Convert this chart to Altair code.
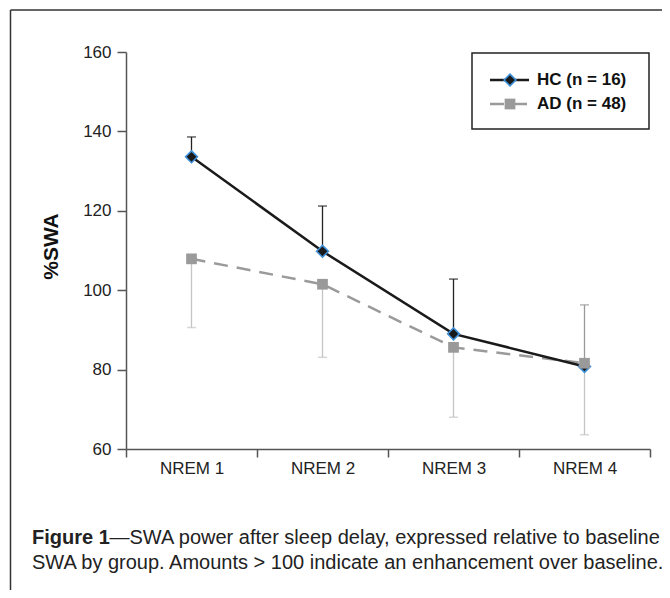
import altair as alt
import pandas as pd

stages = ["NREM 1", "NREM 2", "NREM 3", "NREM 4"]
hc_mean = [133.6, 109.8, 89.0, 80.8]
hc_upper = [138.6, 121.2, 102.8, 96.3]
ad_mean = [107.9, 101.5, 85.6, 81.6]
ad_lower = [90.6, 83.1, 68.0, 63.6]

groups = ["HC (n = 16)", "AD (n = 48)"]
caption_bold = "Figure 1"
caption_rest = "\u2014SWA power after sleep delay, expressed relative to baseline"
caption_line2 = "SWA by group. Amounts > 100 indicate an enhancement over baseline."

FONT = "Liberation Sans"

hc = pd.DataFrame({"stage": stages, "mean": hc_mean, "err": hc_upper})
ad = pd.DataFrame({"stage": stages, "mean": ad_mean, "err": ad_lower})

xenc = alt.X(
    "stage:N",
    sort=stages,
    scale=alt.Scale(type="band", paddingInner=0, paddingOuter=0),
    axis=alt.Axis(
        title=None, labelAngle=0, tickBand="extent", tickSize=8, labelPadding=3,
        labelFontSize=17, labelFont=FONT, labelColor="#222", grid=False,
        domainColor="#555", domainWidth=1.5, tickColor="#555", tickWidth=1.5,
    ),
)
yscale = alt.Scale(domain=[60, 160], nice=False, zero=False)
yaxis = alt.Axis(
    values=[60, 80, 100, 120, 140, 160], tickSize=9, labelPadding=6, grid=False,
    labelFontSize=17, labelFont=FONT, labelColor="#222",
    domainColor="#555", domainWidth=1.5, tickColor="#555", tickWidth=1.5,
    title="%SWA", titleFont=FONT, titleFontSize=21, titleFontWeight="bold",
    titleColor="#111", titleAngle=270, titleX=-75, titleY=194,
    titleAlign="center", titleBaseline="middle",
)

def ypos(field):
    return alt.Y(field, type="quantitative", scale=yscale, axis=yaxis)

err_color = alt.condition(alt.datum.stage == "NREM 4", alt.value("#999999"), alt.value("#222222"))

# error bars: HC upward, AD downward
hc_err = alt.Chart(hc).mark_rule(strokeWidth=1.3).encode(
    x=xenc, y=ypos("mean"), y2="err", color=err_color
)
hc_cap = alt.Chart(hc).mark_tick(size=9, thickness=1.5).encode(
    x=xenc, y=ypos("err"), color=err_color
)
ad_err = alt.Chart(ad).mark_rule(strokeWidth=1.3, color="#c4c4c4").encode(
    x=xenc, y=ypos("err"), y2="mean"
)
ad_cap = alt.Chart(ad).mark_tick(size=9, thickness=1.5, color="#c4c4c4").encode(
    x=xenc, y=ypos("err")
)

ad_line = alt.Chart(ad).mark_line(color="#9a9a9a", strokeWidth=2.5, strokeDash=[14, 9]).encode(
    x=xenc, y=ypos("mean")
)
hc_line = alt.Chart(hc).mark_line(color="#1a1a1a", strokeWidth=2.5).encode(
    x=xenc, y=ypos("mean")
)
hc_pts = alt.Chart(hc).mark_point(
    shape="diamond", size=140, filled=True, fill="#1a1a1a", stroke="#3d8fd8", strokeWidth=1.6, opacity=1
).encode(x=xenc, y=ypos("mean"))
ad_pts = alt.Chart(ad).mark_point(
    shape="square", size=115, filled=True, fill="#9a9a9a", strokeWidth=0, opacity=1
).encode(x=xenc, y=ypos("mean"))

one = pd.DataFrame({"k": [0]})

# outer frame (left and top edges of the figure box)
frame_left = alt.Chart(one).mark_rule(color="#333", strokeWidth=1.5).encode(
    x=alt.value(-115.5), y=alt.value(-42), y2=alt.value(560)
)
frame_top = alt.Chart(one).mark_rule(color="#333", strokeWidth=1.5).encode(
    x=alt.value(-115.5), x2=alt.value(560), y=alt.value(-42)
)

# legend
leg_box = alt.Chart(one).mark_rect(fill="white", stroke="#222", strokeWidth=1.5).encode(
    x=alt.value(346), x2=alt.value(523), y=alt.value(1), y2=alt.value(77)
)
leg_hc_line = alt.Chart(one).mark_rule(color="#1a1a1a", strokeWidth=2.5).encode(
    x=alt.value(364), x2=alt.value(403), y=alt.value(28)
)
leg_ad_line = alt.Chart(one).mark_rule(color="#9a9a9a", strokeWidth=2.5, strokeDash=[14, 9]).encode(
    x=alt.value(364), x2=alt.value(403), y=alt.value(52)
)
leg_hc_pt = alt.Chart(one).mark_point(
    shape="diamond", size=140, filled=True, fill="#1a1a1a", stroke="#3d8fd8", strokeWidth=1.6, opacity=1
).encode(x=alt.value(384), y=alt.value(28))
leg_ad_pt = alt.Chart(one).mark_point(
    shape="square", size=115, filled=True, fill="#9a9a9a", strokeWidth=0, opacity=1
).encode(x=alt.value(384), y=alt.value(52))
leg_style = dict(align="left", baseline="middle", font=FONT, fontSize=17, fontWeight="bold", color="#111")
leg_text_hc = alt.Chart(one).mark_text(**leg_style).encode(
    text=alt.value(groups[0]), x=alt.value(411), y=alt.value(28)
)
leg_text_ad = alt.Chart(one).mark_text(**leg_style).encode(
    text=alt.value(groups[1]), x=alt.value(411), y=alt.value(52)
)

# caption
cap1b = alt.Chart(one).mark_text(
    align="left", baseline="alphabetic", font=FONT, fontSize=20, fontWeight="bold", color="#222"
).encode(text=alt.value(caption_bold), x=alt.value(-94), y=alt.value(492))
cap1 = alt.Chart(one).mark_text(
    align="left", baseline="alphabetic", font=FONT, fontSize=20, color="#222"
).encode(text=alt.value(caption_rest), x=alt.value(-16.5), y=alt.value(492))
cap2 = alt.Chart(one).mark_text(
    align="left", baseline="alphabetic", font=FONT, fontSize=20, color="#222"
).encode(text=alt.value(caption_line2), x=alt.value(-94), y=alt.value(517))

chart = alt.layer(
    frame_left, frame_top,
    hc_err, hc_cap, ad_err, ad_cap,
    ad_line, hc_line, hc_pts, ad_pts,
    leg_box, leg_hc_line, leg_ad_line, leg_hc_pt, leg_ad_pt, leg_text_hc, leg_text_ad,
    cap1b, cap1, cap2,
).properties(
    width=524, height=397,
    background="white",
    autosize=alt.AutoSizeParams(type="none"),
    padding={"left": 118, "top": 44, "right": 12, "bottom": 141},
).configure_axis(grid=False).configure_view(strokeWidth=0, stroke="transparent")

chart.save("out.html", embed_options={"renderer": "svg", "actions": False})
